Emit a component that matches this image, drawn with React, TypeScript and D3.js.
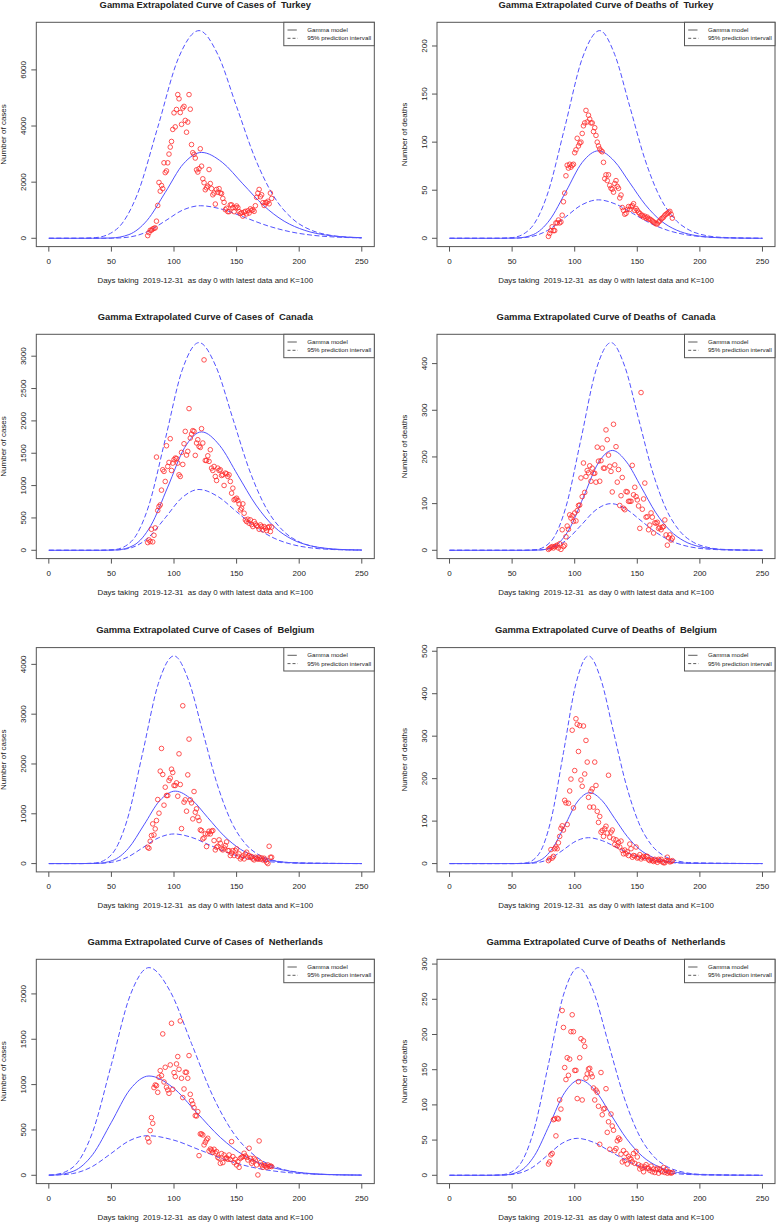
import * as React from "react"
import * as d3 from "d3"

// observed daily values, one per day starting at firstDay
const firstDay = 79
const xTicks = [0, 50, 100, 150, 200, 250]

const turkeyCases = [
  95, 200, 285, 290, 330, 355, 370, 610, 1170, 1990,
  1680, 1880, 1770, 2690, 2340, 2400, 2690, 3000, 3250, 3450,
  3880, 4470, 3970, 4590, 5120, 4970, 4480, 4060, 4640, 4700,
  4200, 3780, 4140, 5120, 4600, 3340, 3050, 2990, 2860, 2440,
  2360, 2480, 3190, 2570, 2120, 1980, 1730, 1800, 1860, 2450,
  1950, 1770, 1550, 1610, 1220, 1740, 1640, 1770, 1610, 1600,
  1420, 1280, 1020, 1070, 950, 950, 1190, 1190, 1090, 950,
  1090, 1150, 1090, 950, 880, 910, 790, 930, 960, 870,
  980, 900, 1050, 1000, 1010, 960, 1160, 1460, 1610, 1740,
  1480, 1550, 1270, 1170, 1270, 1270, 1320, 1230, 1610, 1420,
]
const turkeyDeaths = [
  2, 5, 8, 12, 8, 8, 16, 16, 19, 16,
  17, 24, 38, 47, 65, 76, 73, 77, 74, 76,
  77, 89, 92, 104, 96, 99, 100, 109, 117, 120,
  133, 121, 128, 124, 120, 120, 111, 115, 107, 100,
  96, 93, 91, 90, 79, 62, 66, 60, 66, 55,
  52, 51, 48, 57, 60, 54, 52, 42, 45, 32,
  29, 25, 26, 30, 33, 30, 33, 34, 36, 29,
  31, 29, 27, 26, 24, 24, 22, 23, 21, 22,
  20, 20, 19, 18, 17, 16, 15, 15, 17, 18,
  20, 21, 22, 24, 25, 26, 27, 28, 25, 21,
]
const canadaCases = [
  119, 160, 135, 325, 130, 232, 346, 1441, 615, 676,
  702, 930, 1245, 1219, 1064, 1616, 1296, 1358, 1725, 1234,
  1348, 1400, 1425, 1420, 1348, 1167, 1141, 1513, 1327, 1647,
  1838, 1472, 1529, 2190, 1735, 1797, 1849, 1838, 1467, 1658,
  1709, 1606, 1590, 1880, 1658, 2943, 1389, 1389, 1461, 1374,
  1554, 1270, 1234, 1296, 1141, 1079, 1270, 1234, 1245, 1157,
  1167, 1002, 1193, 1183, 1141, 1167, 1064, 883, 960, 780,
  790, 805, 769, 718, 625, 650, 718, 573, 470, 444,
  480, 418, 470, 398, 367, 444, 408, 382, 367, 325,
  392, 367, 315, 367, 341, 305, 351, 367, 290, 360,
]
const canadaDeaths = [
  2, 4, 6, 8, 5, 8, 9, 11, 5, 14,
  2, 44, 8, 11, 29, 52, 45, 76, 69, 74,
  62, 80, 63, 85, 96, 97, 155, 115, 187, 124,
  158, 171, 166, 181, 148, 176, 165, 165, 146, 221,
  191, 148, 192, 219, 176, 176, 258, 237, 204, 180,
  169, 125, 270, 183, 222, 146, 173, 96, 117, 156,
  90, 87, 126, 125, 105, 105, 105, 182, 119, 135,
  115, 108, 95, 47, 338, 88, 110, 144, 71, 72,
  44, 54, 80, 71, 37, 59, 58, 60, 47, 49,
  44, 49, 51, 65, 33, 11, 27, 33, 22, 26,
]
const belgiumCases = [
  328, 308, 449, 563, 797, 576, 697, 864, 1286, 1012,
  1856, 2312, 1789, 1173, 1534, 1367, 1367, 1668, 1715, 1896,
  1829, 1568, 1568, 1621, 1353, 2204, 1588, 703, 3169, 1233,
  1280, 1052, 1782, 2499, 1280, 1219, 898, 1447, 1032, 1099,
  931, 864, 677, 663, 496, 516, 596, 342, 596, 650,
  596, 650, 663, 462, 275, 328, 348, 476, 409, 295,
  275, 315, 362, 435, 261, 261, 161, 208, 261, 161,
  261, 295, 147, 194, 94, 127, 154, 94, 194, 228,
  127, 161, 127, 141, 94, 74, 127, 107, 87, 127,
  87, 114, 74, 107, 67, 27, 0, 348, 127, 127,
]
const belgiumDeaths = [
  7, 11, 33, 13, 17, 35, 39, 35, 49, 64,
  83, 89, 79, 149, 143, 92, 142, 171, 199, 314,
  131, 219, 341, 328, 264, 325, 197, 182, 324, 211,
  290, 239, 156, 133, 170, 176, 133, 239, 184, 123,
  97, 111, 74, 78, 64, 82, 88, 72, 208, 62,
  74, 79, 58, 45, 56, 42, 50, 39, 53, 31,
  23, 32, 23, 28, 19, 46, 35, 15, 19, 18,
  39, 13, 15, 21, 11, 15, 17, 13, 17, 17,
  9, 7, 10, 7, 5, 10, 7, 3, 10, 7,
  10, 4, 2, 2, 7, 15, 7, 4, 5, 7,
]
const netherlandsCases = [
  408, 368, 493, 636, 573, 967, 996, 989, 915, 1081,
  1154, 1099, 1559, 1029, 1191, 971, 941, 904, 1217, 1676,
  948, 1132, 1088, 1228, 1309, 1169, 1702, 1070, 857, 952,
  1136, 1136, 1070, 1320, 893, 823, 787, 746, 658, 654,
  702, 217, 456, 456, 445, 335, 364, 390, 408, 268,
  290, 279, 254, 287, 246, 261, 198, 187, 132, 239,
  140, 224, 187, 191, 176, 224, 176, 371, 206, 140,
  176, 114, 151, 88, 187, 198, 206, 243, 213, 198,
  169, 298, 187, 132, 151, 187, 169, 114, 4, 379,
  140, 114, 88, 110, 103, 88, 114, 96, 103, 96,
]
const netherlandsDeaths = [
  16, 19, 29, 31, 79, 80, 56, 81, 80, 107,
  94, 234, 210, 153, 136, 167, 142, 165, 204, 228,
  204, 149, 149, 109, 133, 167, 194, 107, 191, 183,
  138, 144, 151, 152, 144, 140, 124, 107, 121, 118,
  98, 44, 146, 86, 94, 95, 123, 61, 76, 37,
  87, 70, 64, 35, 38, 49, 53, 51, 30, 19,
  35, 21, 31, 16, 27, 24, 23, 19, 31, 17,
  34, 26, 15, 9, 13, 10, 5, 12, 15, 10,
  10, 7, 13, 5, 9, 4, 8, 10, 3, 9,
  6, 5, 11, 4, 8, 3, 5, 4, 3, 4,
]

// fitted curves: [day, value]
const turkeyCasesMean = [[0, 0], [35, 0.3], [49.5, 10], [64, 132], [78.5, 638], [93, 1634], [107.5, 2653], [122, 3060], [138.5, 2708], [155, 1940], [171.5, 1169], [188, 609], [204.5, 282], [221, 116], [237.5, 44], [250, 20]]
const turkeyCasesUpper = [[0, 0], [21, 0.7], [37.5, 25], [54, 318], [70.5, 1543], [87, 3952], [103.5, 6416], [120, 7400], [135, 6549], [150, 4692], [165, 2827], [180, 1473], [195, 681], [210, 281], [225, 107], [240, 37], [250, 15]]
const turkeyCasesLower = [[0, 0], [37, 0], [51, 4], [65, 50], [79, 242], [93, 619], [107, 1006], [121, 1160], [139, 1027], [157, 735], [175, 443], [193, 231], [211, 107], [229, 44], [247, 17], [250, 15]]

const turkeyDeathsMean = [[0, 0], [41, 0], [54, 0.3], [67, 3.9], [80, 19], [93, 48.6], [106, 78.9], [119, 91], [131.5, 80.5], [144, 57.7], [156.5, 34.8], [169, 18.1], [181.5, 8.4], [194, 3.5], [206.5, 1.3], [219, 0.5], [250, 0]]
const turkeyDeathsUpper = [[0, 0], [36, 0], [50, 0.7], [64, 9.3], [78, 45], [92, 115], [106, 187], [120, 216], [132, 191], [144, 137], [156, 82.5], [168, 43], [180, 19.9], [192, 8.2], [204, 3.1], [216, 1.1], [250, 0]]
const turkeyDeathsLower = [[0, 0], [38, 0], [51.5, 0.1], [65, 1.7], [78.5, 8.3], [92, 21.4], [105.5, 34.7], [119, 40], [133, 35.4], [147, 25.4], [161, 15.3], [175, 8], [189, 3.7], [203, 1.5], [217, 0.6], [231, 0.2], [250, 0]]

const canadaCasesMean = [[0, 0], [41, 0.2], [54.5, 6], [68, 79], [81.5, 382], [95, 977], [108.5, 1587], [122, 1830], [136.5, 1620], [151, 1160], [165.5, 699], [180, 364], [194.5, 168], [209, 70], [223.5, 26.5], [238, 9], [250, 4]]
const canadaCasesUpper = [[0, 0], [39, 0.3], [52.5, 11], [66, 138], [79.5, 669], [93, 1714], [106.5, 2783], [120, 3210], [133.5, 2841], [147, 2035], [160.5, 1226], [174, 639], [187.5, 295], [201, 122], [214.5, 46.5], [228, 16], [250, 4]]
const canadaCasesLower = [[0, 0], [39, 0], [52.5, 3.2], [66, 40], [79.5, 196], [93, 502], [106.5, 815], [120, 940], [135, 832], [150, 596], [165, 359], [180, 187], [195, 86.5], [210, 35.7], [225, 13.6], [240, 4.7], [250, 2]]

const canadaDeathsMean = [[0, 0], [61, 0], [72.5, 0.7], [84, 9.2], [95.5, 44.6], [107, 114], [118.5, 185.5], [130, 214], [141.5, 189], [153, 136], [164.5, 81.7], [176, 42.6], [187.5, 19.7], [199, 8.1], [210.5, 3.1], [222, 1.1], [250, 0]]
const canadaDeathsUpper = [[0, 0], [57, 0], [69, 1.5], [81, 19], [93, 93], [105, 238], [117, 386], [129, 445], [140, 394], [151, 282], [162, 170], [173, 88.6], [184, 41], [195, 16.9], [206, 6.5], [217, 2.2], [250, 0]]
const canadaDeathsLower = [[0, 0], [57, 0], [69, 0.3], [81, 4.3], [93, 20.9], [105, 53.4], [117, 86.7], [129, 100], [141, 88.5], [153, 63.4], [165, 38.2], [177, 19.9], [189, 9.2], [201, 3.8], [213, 1.5], [225, 0.5], [250, 0]]

const belgiumCasesMean = [[0, 0], [26, 0.1], [38.5, 5], [51, 62.6], [63.5, 303], [76, 777], [88.5, 1261], [101, 1455], [114, 1288], [127, 922], [140, 556], [153, 290], [166, 134], [179, 55], [192, 21], [205, 7.3], [250, 0]]
const belgiumCasesUpper = [[0, 0], [25, 0.4], [37.5, 14], [50, 179], [62.5, 869], [75, 2227], [87.5, 3615], [100, 4170], [111.5, 3690], [123, 2644], [134.5, 1593], [146, 830], [157.5, 384], [169, 158], [180.5, 60], [192, 21], [250, 0]]
const belgiumCasesLower = [[0, 0], [25, 0], [37.5, 2], [50, 25.6], [62.5, 124], [75, 318], [87.5, 516], [100, 595], [114, 527], [128, 377], [142, 227], [156, 118], [170, 55], [184, 22.6], [198, 8.6], [212, 3], [250, 0]]

const belgiumDeathsMean = [[0, 0], [52, 0], [62, 0.6], [72, 7.2], [82, 34.8], [92, 89], [102, 145], [112, 167], [122, 148], [132, 106], [142, 63.8], [152, 33.2], [162, 15.4], [172, 6.3], [182, 2.4], [192, 0.8], [250, 0]]
const belgiumDeathsUpper = [[0, 0], [51, 0], [61, 1.7], [71, 21], [81, 102], [91, 261], [101, 424], [111, 489], [121, 433], [131, 310], [141, 187], [151, 97.3], [161, 45], [171, 18.6], [181, 7.1], [191, 2.4], [250, 0]]
const belgiumDeathsLower = [[0, 0], [51, 0], [61, 0.2], [71, 2.6], [81, 12.7], [91, 32.6], [101, 52.9], [111, 61], [122, 54], [133, 38.7], [144, 23.3], [155, 12.1], [166, 5.6], [177, 2.3], [188, 0.9], [199, 0.3], [250, 0]]

const netherlandsCasesMean = [[0, 1], [5, 3.7], [20, 47], [35, 228], [50, 585], [65, 949], [80, 1095], [99, 969], [118, 694], [137, 418], [156, 218], [175, 101], [194, 41.6], [213, 15.9], [232, 5.5], [250, 2]]
const netherlandsCasesUpper = [[0, 3], [5, 7.8], [20, 98], [35, 477], [50, 1223], [65, 1985], [80, 2290], [97, 2027], [114, 1452], [131, 875], [148, 456], [165, 211], [182, 87], [199, 33], [216, 11.5], [250, 2]]
const netherlandsCasesLower = [[0, 0.5], [4, 1.5], [19, 18.8], [34, 91], [49, 233], [64, 379], [79, 437], [100, 387], [121, 277], [142, 167], [163, 87], [184, 40], [205, 16.6], [226, 6.3], [247, 2.2], [250, 2]]

const netherlandsDeathsMean = [[0, 0], [32, 0], [44, 0.5], [56, 5.8], [68, 28.3], [80, 72.4], [92, 117.5], [104, 135.5], [116.5, 120], [129, 85.9], [141.5, 51.8], [154, 27], [166.5, 12.5], [179, 5.1], [191.5, 2], [204, 0.7], [250, 0]]
const netherlandsDeathsUpper = [[0, 0], [31, 0], [43, 1], [55, 12.7], [67, 61.5], [79, 157.5], [91, 256], [103, 295], [115, 261], [127, 187], [139, 113], [151, 58.7], [163, 27], [175, 11.2], [187, 4.3], [199, 1.5], [250, 0]]
const netherlandsDeathsLower = [[0, 0], [30, 0], [42, 0.2], [54, 2.3], [66, 10.9], [78, 28], [90, 45.5], [102, 52.5], [115.5, 46.5], [129, 33.3], [142.5, 20], [156, 10.4], [169.5, 4.8], [183, 2], [196.5, 0.8], [210, 0.3], [250, 0]]

const panels = [
  { country: "Turkey", kind: "Cases", obs: turkeyCases, mean: turkeyCasesMean, upper: turkeyCasesUpper, lower: turkeyCasesLower, yTicks: [0, 2000, 4000, 6000] },
  { country: "Turkey", kind: "Deaths", obs: turkeyDeaths, mean: turkeyDeathsMean, upper: turkeyDeathsUpper, lower: turkeyDeathsLower, yTicks: [0, 50, 100, 150, 200] },
  { country: "Canada", kind: "Cases", obs: canadaCases, mean: canadaCasesMean, upper: canadaCasesUpper, lower: canadaCasesLower, yTicks: [0, 500, 1000, 1500, 2000, 2500, 3000] },
  { country: "Canada", kind: "Deaths", obs: canadaDeaths, mean: canadaDeathsMean, upper: canadaDeathsUpper, lower: canadaDeathsLower, yTicks: [0, 100, 200, 300, 400] },
  { country: "Belgium", kind: "Cases", obs: belgiumCases, mean: belgiumCasesMean, upper: belgiumCasesUpper, lower: belgiumCasesLower, yTicks: [0, 1000, 2000, 3000, 4000] },
  { country: "Belgium", kind: "Deaths", obs: belgiumDeaths, mean: belgiumDeathsMean, upper: belgiumDeathsUpper, lower: belgiumDeathsLower, yTicks: [0, 100, 200, 300, 400, 500] },
  { country: "Netherlands", kind: "Cases", obs: netherlandsCases, mean: netherlandsCasesMean, upper: netherlandsCasesUpper, lower: netherlandsCasesLower, yTicks: [0, 500, 1000, 1500, 2000] },
  { country: "Netherlands", kind: "Deaths", obs: netherlandsDeaths, mean: netherlandsDeathsMean, upper: netherlandsDeathsUpper, lower: netherlandsDeathsLower, yTicks: [0, 50, 100, 150, 200, 250, 300] },
]

const W = 776
const H = 1222
const colLeft = [36.3, 437]
const rowTop = [22.3, 334.3, 647.6, 959.3]
const boxW = 338
const boxH = 224.3
const font = "'Liberation Sans', Arial, Helvetica, sans-serif"
const ink = "#222"
const curveColor = "#5252ff"
const pre = { whiteSpace: "pre" } as React.CSSProperties

function Panel({ p, left, top }) {
  const bottom = top + boxH
  const right = left + boxW
  const x = d3.scaleLinear().domain([-10, 260]).range([left, right])
  const yMax = d3.max([...p.obs, ...p.upper.map((d) => d[1])])
  const y = d3
    .scaleLinear()
    .domain([-0.04 * yMax, 1.04 * yMax])
    .range([bottom, top])
  const line = d3
    .line()
    .x((d) => x(d[0]))
    .y((d) => y(d[1]))
    .curve(d3.curveMonotoneX)
  const cx = (left + right) / 2
  const lgX = right - 90.5

  return (
    <g fontFamily={font} fill={ink}>
      <text x={cx} y={top - 14.5} textAnchor="middle" fontWeight="bold" fontSize={9.4} style={pre}>
        {`Gamma Extrapolated Curve of ${p.kind} of  ${p.country}`}
      </text>

      <path d={line(p.upper)} fill="none" stroke={curveColor} strokeWidth={1} strokeDasharray="5,2.5" />
      <path d={line(p.lower)} fill="none" stroke={curveColor} strokeWidth={1} strokeDasharray="5,2.5" />
      <path d={line(p.mean)} fill="none" stroke={curveColor} strokeWidth={1} />

      {p.obs.map((v, i) => (
        <circle key={i} cx={x(firstDay + i)} cy={y(v)} r={2.3} fill="none" stroke="#ff2a2a" strokeWidth={0.8} />
      ))}

      <rect x={left} y={top} width={boxW} height={boxH} fill="none" stroke="#555" strokeWidth={1} />

      {xTicks.map((t) => (
        <g key={t}>
          <line x1={x(t)} x2={x(t)} y1={bottom} y2={bottom + 5} stroke="#555" />
          <text x={x(t)} y={bottom + 17} textAnchor="middle" fontSize={8}>
            {t}
          </text>
        </g>
      ))}
      {p.yTicks.map((t) => (
        <g key={t}>
          <line x1={left - 5} x2={left} y1={y(t)} y2={y(t)} stroke="#555" />
          <text transform={`translate(${left - 13},${y(t)}) rotate(-90)`} dy="0.35em" textAnchor="middle" fontSize={8}>
            {t}
          </text>
        </g>
      ))}

      <text x={cx} y={bottom + 36} textAnchor="middle" fontSize={7.9} style={pre}>
        {"Days taking  2019-12-31  as day 0 with latest data and K=100"}
      </text>
      <text transform={`translate(${left - 33},${(top + bottom) / 2}) rotate(-90)`} dy="0.35em" textAnchor="middle" fontSize={8}>
        {`Number of ${p.kind.toLowerCase()}`}
      </text>

      <rect x={lgX} y={top} width={90.5} height={23.4} fill="white" stroke="#555" strokeWidth={1} />
      <line x1={lgX + 3.7} x2={lgX + 13} y1={top + 7.7} y2={top + 7.7} stroke="#333" strokeWidth={0.8} />
      <line x1={lgX + 3.7} x2={lgX + 14} y1={top + 16} y2={top + 16} stroke="#333" strokeWidth={0.8} strokeDasharray="3,2" />
      <text x={lgX + 23.4} y={top + 7.7} dy="0.35em" fontSize={6.2}>
        Gamma model
      </text>
      <text x={lgX + 23.4} y={top + 16} dy="0.35em" fontSize={6.2}>
        95% prediction intervall
      </text>
    </g>
  )
}

export default function App() {
  return (
    <>
      <style>{`body{margin:0}`}</style>
      <svg width={W} height={H} style={{ display: "block", background: "white" }}>
        <rect width={W} height={H} fill="white" />
        {panels.map((p, i) => (
          <Panel key={i} p={p} left={colLeft[i % 2]} top={rowTop[Math.floor(i / 2)]} />
        ))}
      </svg>
    </>
  )
}
